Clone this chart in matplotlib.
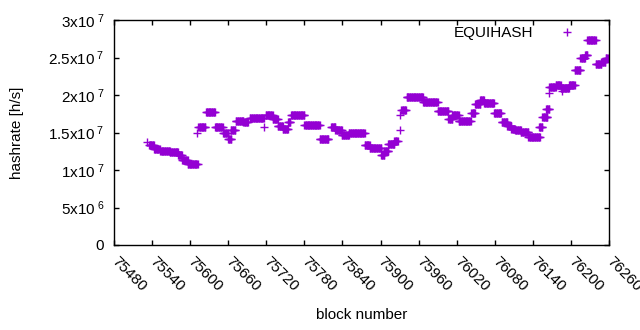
import numpy as np
import matplotlib
matplotlib.use("Agg")
from matplotlib import pyplot as plt

plt.rcParams['font.family'] = ['Liberation Sans', 'DejaVu Sans']
plt.rcParams['mathtext.fontset'] = 'custom'
plt.rcParams['mathtext.rm'] = 'Liberation Sans'
plt.rcParams['mathtext.it'] = 'Liberation Sans'

# plateaus of the hashrate estimate: first block, last block, value [1e6 h/s]
run_start = [75532, 75535, 75543, 75553, 75568, 75581, 75587, 75596, 75611, 75613,
             75625, 75639, 75652, 75660, 75664, 75672, 75684, 75694, 75717, 75719,
             75730, 75738, 75746, 75754, 75759, 75780, 75804, 75822, 75829, 75839,
             75850, 75875, 75883, 75901, 75906, 75912, 75922, 75930, 75931, 75933,
             75941, 75967, 75990, 76007, 76013, 76023, 76043, 76049, 76057, 76063,
             76079, 76091, 76100, 76106, 76112, 76121, 76133, 76150, 76155, 76161,
             76166, 76166, 76176, 76184, 76186, 76197, 76206, 76215, 76222, 76226,
             76239, 76248, 76255]
run_end = [75532, 75543, 75552, 75568, 75581, 75587, 75596, 75612, 75611, 75624,
           75639, 75651, 75659, 75665, 75671, 75684, 75691, 75716, 75717, 75730,
           75738, 75746, 75754, 75758, 75780, 75804, 75818, 75829, 75839, 75850,
           75875, 75883, 75901, 75906, 75912, 75922, 75927, 75930, 75931, 75940,
           75967, 75990, 76007, 76013, 76023, 76042, 76049, 76057, 76063, 76079,
           76090, 76100, 76106, 76112, 76121, 76133, 76151, 76155, 76163, 76166,
           76166, 76176, 76184, 76197, 76186, 76206, 76215, 76222, 76226, 76239,
           76248, 76254, 76258]
run_value = [13.77, 13.3, 12.85, 12.5, 12.45, 11.95, 11.35, 10.8, 14.9, 15.7,
             17.7, 15.7, 14.9, 14.1, 15.4, 16.5, 16.4, 16.9, 15.67, 17.33,
             16.84, 15.87, 15.5, 16.4, 17.33, 15.95, 14.2, 15.7, 15.3, 14.67,
             14.9, 13.4, 12.9, 12.0, 12.5, 13.5, 13.9, 15.3, 17.3, 18.0,
             19.7, 19.03, 17.9, 16.8, 17.33, 16.5, 17.56, 18.8, 19.27, 18.9,
             17.56, 16.44, 15.87, 15.53, 15.33, 15.1, 14.36, 15.8, 17.1, 18.2,
             20.3, 21.1, 21.4, 21.0, 20.5, 21.3, 23.3, 24.9, 25.4, 27.33,
             24.2, 24.4, 24.9]

xticks = list(range(75480, 76261, 60))
yticks = [0, 5e6, 1e7, 1.5e7, 2e7, 2.5e7, 3e7]
ytick_labels = ['0', r'5x10$^{\ 6}$', r'1x10$^{\ 7}$', r'1.5x10$^{\ 7}$',
                r'2x10$^{\ 7}$', r'2.5x10$^{\ 7}$', r'3x10$^{\ 7}$']

blocks = []
rates = []
for s, e, v in zip(run_start, run_end, run_value):
    for b in range(s, e + 1):
        blocks.append(b)
        rates.append(v * 1e6)

fig = plt.figure(figsize=(6.4, 3.3), dpi=100)
ax = fig.add_axes([114 / 640, 85 / 330, 495 / 640, 225 / 330])

ax.plot(blocks, rates, linestyle='none', marker='+', markersize=5.5,
        markeredgewidth=1.0, color='#9400d3', label='EQUIHASH')

ax.set_xlim(75480, 76260)
ax.set_ylim(0, 3e7)
ax.set_xticks(xticks)
ax.set_xticklabels([str(t) for t in xticks], rotation=-45, ha='left',
                   va='center', rotation_mode='anchor', fontsize=11)
ax.set_yticks(yticks)
ax.set_yticklabels(ytick_labels, fontsize=11)
ax.tick_params(direction='in', top=True, right=True, length=3.5, width=1)
ax.tick_params(axis='x', pad=10)
ax.tick_params(axis='y', pad=7)
for sp in ax.spines.values():
    sp.set_linewidth(1)

ax.set_xlabel('block number', fontsize=11, labelpad=10)
ax.set_ylabel('hashrate [h/s]', fontsize=11, labelpad=17)

ax.legend(loc='upper right', frameon=False, markerfirst=False, fontsize=11,
          handlelength=1.5, handletextpad=1.5, borderaxespad=0.0,
          bbox_to_anchor=(0.951, 1.0))

fig.savefig('out.png', dpi=100)
